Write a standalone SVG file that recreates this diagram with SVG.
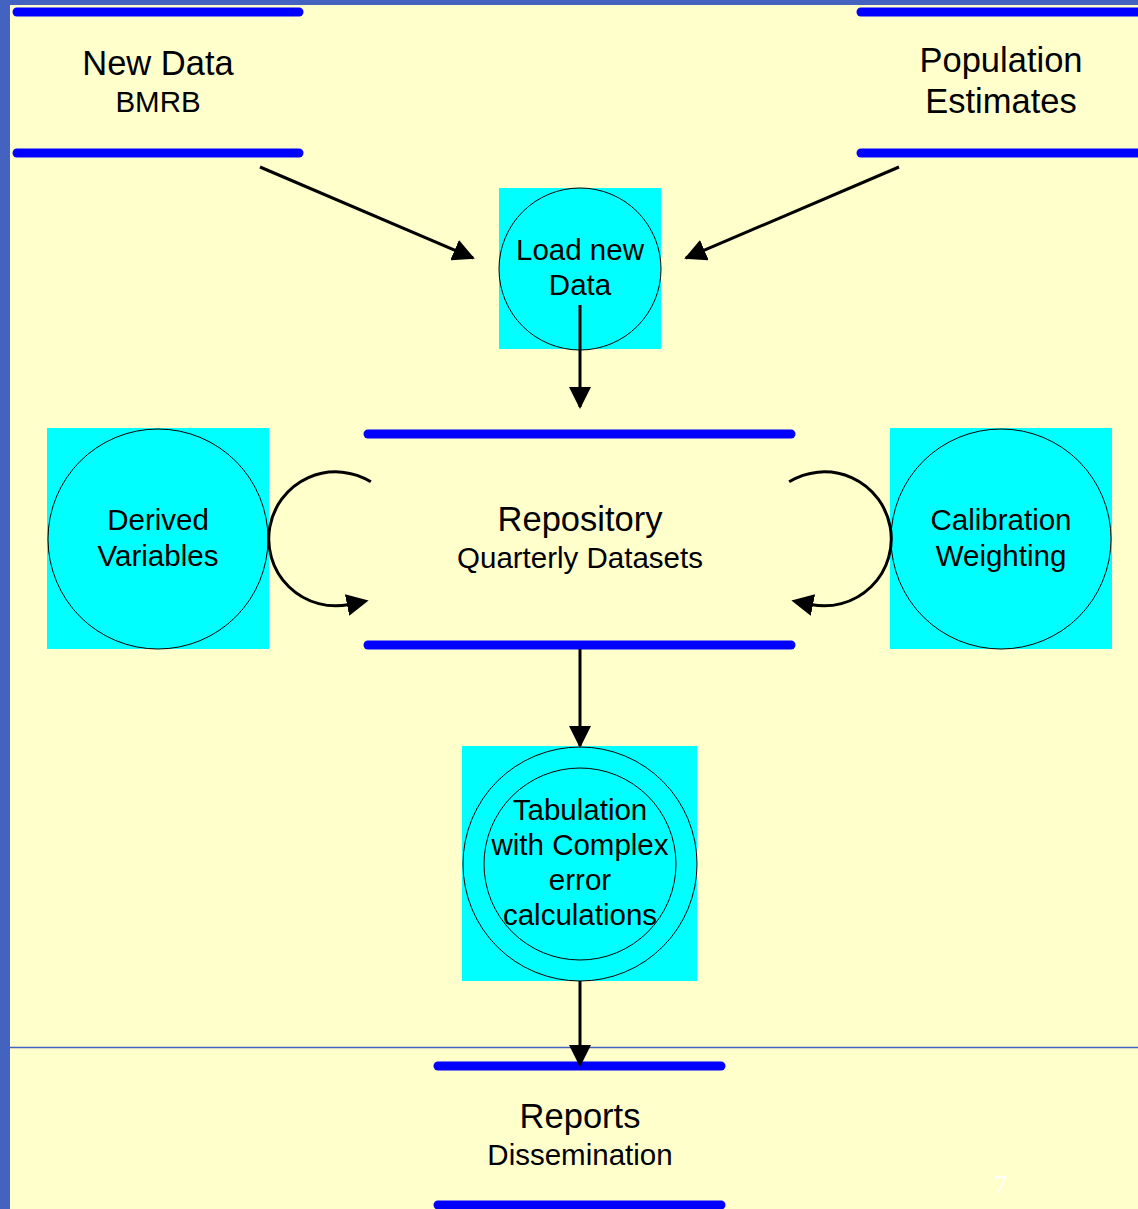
<svg xmlns="http://www.w3.org/2000/svg" width="1138" height="1209" viewBox="0 0 1138 1209">
<style>
.t{font-family:"Liberation Sans",Arial,sans-serif;fill:#000;text-anchor:middle}
.big{font-size:34.5px}
.sm{font-size:29.5px}
.bar{stroke:#0000FF;stroke-width:9;stroke-linecap:round;fill:none}
.proc{fill:#00FFFF}
.circ{fill:#00FFFF;stroke:#000;stroke-width:1}
.conn{stroke:#000;stroke-width:3;fill:none}
</style>
<defs>
<marker id="ah" markerUnits="userSpaceOnUse" markerWidth="22" markerHeight="22" refX="20" refY="11" orient="auto" viewBox="0 0 22 22">
<path d="M0,0 L22,11 L0,22 z" fill="#000"/>
</marker>
<marker id="ahb" markerUnits="userSpaceOnUse" markerWidth="22" markerHeight="22" refX="2" refY="11" orient="auto" viewBox="0 0 22 22">
<path d="M0,0 L22,11 L0,22 z" fill="#000"/>
</marker>
</defs>
<rect x="0" y="0" width="1138" height="1209" fill="#4462C0"/>
<rect x="10" y="5" width="1128" height="1204" fill="#FFFFCC"/>
<line x1="10" y1="1047.5" x2="1138" y2="1047.5" stroke="#4462C0" stroke-width="1.5"/>

<g id="new-data">
<line class="bar" x1="17" y1="12" x2="299" y2="12"/>
<line class="bar" x1="17" y1="153" x2="299" y2="153"/>
<text class="t big" x="158" y="75">New Data</text>
<text class="t sm" x="158" y="112">BMRB</text>
</g>

<g id="population-estimates">
<line class="bar" x1="861" y1="12" x2="1145" y2="12"/>
<line class="bar" x1="861" y1="153" x2="1145" y2="153"/>
<text class="t big" x="1001" y="72">Population</text>
<text class="t big" x="1001" y="113">Estimates</text>
</g>

<g id="load-new-data">
<rect class="proc" x="499" y="188" width="162" height="161"/>
<circle class="circ" cx="580" cy="269" r="81"/>
<text class="t sm" x="580" y="260">Load new</text>
<text class="t sm" x="580" y="295">Data</text>
</g>

<g id="repository">
<line class="bar" x1="368" y1="434" x2="791" y2="434"/>
<line class="bar" x1="368" y1="645" x2="791" y2="645"/>
<text class="t big" x="580" y="531">Repository</text>
<text class="t sm" x="580" y="568">Quarterly Datasets</text>
</g>

<g id="derived-variables">
<rect class="proc" x="47" y="428" width="222" height="221"/>
<circle class="circ" cx="158" cy="539" r="110"/>
<text class="t sm" x="158" y="530">Derived</text>
<text class="t sm" x="158" y="566">Variables</text>
</g>

<g id="calibration-weighting">
<rect class="proc" x="890" y="428" width="222" height="221"/>
<circle class="circ" cx="1001" cy="539" r="110"/>
<text class="t sm" x="1001" y="530">Calibration</text>
<text class="t sm" x="1001" y="566">Weighting</text>
</g>

<g id="tabulation">
<rect class="proc" x="462" y="746" width="235" height="235"/>
<circle class="circ" cx="580" cy="864" r="117"/>
<circle class="circ" cx="580" cy="864" r="96"/>
<text class="t sm" x="580" y="820">Tabulation</text>
<text class="t sm" x="580" y="855">with Complex</text>
<text class="t sm" x="580" y="890">error</text>
<text class="t sm" x="580" y="925">calculations</text>
</g>

<g id="reports">
<line class="bar" x1="438" y1="1066" x2="721" y2="1066"/>
<line class="bar" x1="438" y1="1205" x2="721" y2="1205"/>
<text class="t big" x="580" y="1128">Reports</text>
<text class="t sm" x="580" y="1165">Dissemination</text>
</g>

<g id="connectors">
<line class="conn" x1="260" y1="167" x2="473" y2="258" marker-end="url(#ah)"/>
<line class="conn" x1="899" y1="167" x2="686" y2="258" marker-end="url(#ah)"/>
<line class="conn" x1="580" y1="305" x2="580" y2="407" marker-end="url(#ah)"/>
<line class="conn" x1="580" y1="649" x2="580" y2="746" marker-end="url(#ah)"/>
<line class="conn" x1="580" y1="981" x2="580" y2="1065" marker-end="url(#ah)"/>
<path class="conn" d="M370.9,481.8 A67,67 0 1 0 349,604.5" marker-end="url(#ahb)"/>
<path class="conn" d="M789.1,481.8 A67,67 0 1 1 811,604.5" marker-end="url(#ahb)"/>
</g>

<text x="1001" y="1193" font-family="'Liberation Serif',serif" font-size="26" fill="#FFFFFF" text-anchor="middle">7</text>
</svg>
